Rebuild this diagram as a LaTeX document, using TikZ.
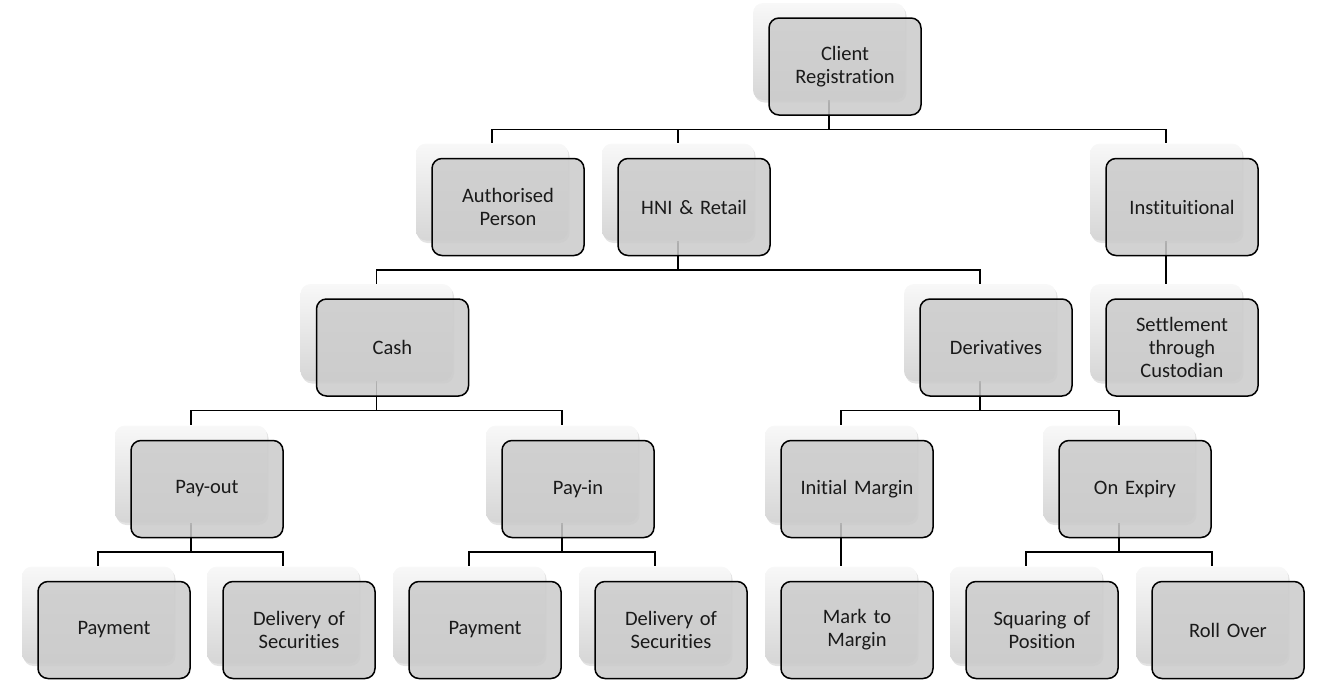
\documentclass[tikz,border=0pt]{standalone}
\usepackage{fontspec}
\setmainfont{Carlito}[Ligatures=NoCommon]
\usetikzlibrary{shadows,calc}
\pgfdeclarelayer{back}
\pgfsetlayers{back,main}
\definecolor{fgcol}{HTML}{CBCBCB}
\definecolor{bgtop}{HTML}{F8F8F8}
\definecolor{bgbot}{HTML}{D6D6D6}
\definecolor{txt}{HTML}{1A1A1A}
\tikzset{
  bgbox/.style={rectangle, rounded corners=10pt, minimum width=152pt, minimum height=97pt,
    inner sep=0pt, top color=bgtop, bottom color=bgbot,
    drop shadow={opacity=0.22, shadow xshift=1.5pt, shadow yshift=-2.5pt}},
  fgbox/.style={rectangle, rounded corners=10pt, minimum width=152pt, minimum height=97pt,
    inner sep=2pt, draw=black, line width=1.5pt, fill=fgcol, fill opacity=0.86,
    text opacity=1, text=txt, align=center, text width=146pt,
    font=\fontsize{20.5}{23}\selectfont},
  conn/.style={draw=black, line width=1.5pt},
}
\newcommand\tnode[4]{%
  \node[bgbox] (#1-bg) at (#2,#3) {};
  \node[fgbox] (#1) at (#2+16,#3+15) {#4};}
\newcommand\tlink[2]{\draw[conn] (#1-bg.south) -- ++(0,29.5) -| (#2-bg.north);}
\begin{document}
\begin{tikzpicture}[x=1pt,y=-1pt]
\useasboundingbox (0,0) rectangle (1320,680);
% level 1
\tnode{cr}{829}{51.5}{Client\\Registration}
% level 2
\tnode{ap}{492}{192}{Authorised\\Person}
\tnode{hni}{678}{192}{HNI \& Retail}
\tnode{inst}{1166}{192}{Instituitional}
% level 3
\tnode{cash}{376.5}{332.5}{Cash}
\tnode{der}{980}{332.5}{Derivatives}
\tnode{set}{1166}{332.5}{Settlement\\through\\Custodian}
% level 4
\tnode{po}{191}{474}{Pay-out}
\tnode{pi}{562}{474}{Pay-in}
\tnode{im}{841}{474}{Initial Margin}
\tnode{oe}{1119}{474}{On Expiry}
% level 5
\tnode{pay1}{98}{615}{Payment}
\tnode{del1}{283}{615}{Delivery of\\Securities}
\tnode{pay2}{469}{615}{Payment}
\tnode{del2}{655}{615}{Delivery of\\Securities}
\tnode{mtm}{841}{615}{Mark to\\Margin}
\tnode{sq}{1026}{615}{Squaring of\\Position}
\tnode{ro}{1212}{615}{Roll Over}
\begin{pgfonlayer}{back}
\tlink{cr}{ap}
\tlink{cr}{hni}
\tlink{cr}{inst}
\tlink{hni}{cash}
\tlink{hni}{der}
\tlink{inst}{set}
\tlink{cash}{po}
\tlink{cash}{pi}
\tlink{der}{im}
\tlink{der}{oe}
\tlink{po}{pay1}
\tlink{po}{del1}
\tlink{pi}{pay2}
\tlink{pi}{del2}
\tlink{im}{mtm}
\tlink{oe}{sq}
\tlink{oe}{ro}
\end{pgfonlayer}
\end{tikzpicture}
\end{document}
